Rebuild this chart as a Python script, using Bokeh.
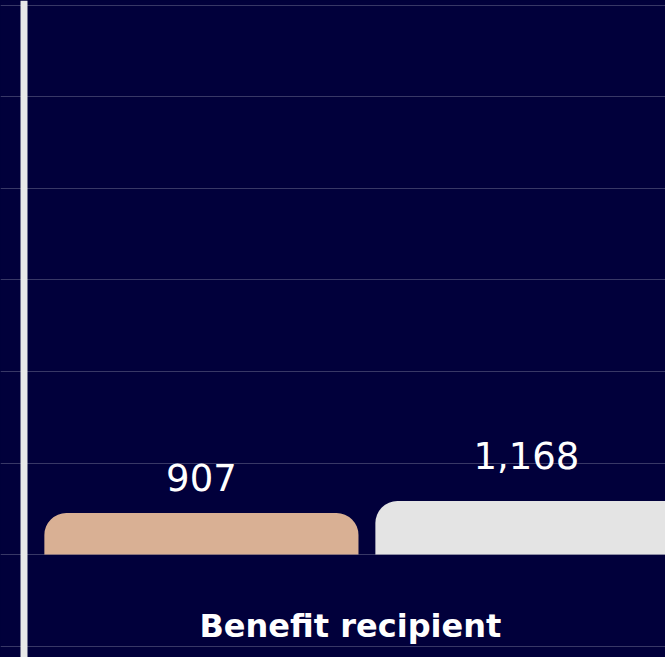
from bokeh.plotting import figure
from bokeh.models import Range1d, Span, SingleIntervalTicker, ColumnDataSource, Label
from bokeh.core.properties import value
from bokeh.embed import file_html
from bokeh.resources import INLINE

# Data
series = ["Series 1", "Series 2"]
values = [907, 1168]
labels = ["907", "1,168"]
group_label = "Benefit recipient"
bar_colors = ["#D9B094", "#E4E4E4"]

BG = "#01003B"
BAR_W = 0.949

p = figure(width=665, height=657, output_backend="svg", toolbar_location=None,
           x_range=Range1d(-0.607, 1.402), y_range=Range1d(-2251, 12109),
           min_border=0, min_border_left=0, min_border_right=0,
           min_border_top=0, min_border_bottom=0)
p.background_fill_color = BG
p.border_fill_color = BG
p.outline_line_color = None
p.xaxis.visible = False
p.yaxis.visible = False
p.xgrid.visible = False
p.ygrid.ticker = SingleIntervalTicker(interval=2000)
p.ygrid.grid_line_color = "white"
p.ygrid.grid_line_alpha = 0.22
p.ygrid.grid_line_width = 1

xs = list(range(len(values)))
left = [x - BAR_W / 2 for x in xs]
right = [x + BAR_W / 2 for x in xs]
# labels sit on their ink bottom: a comma descender lifts the digits
yoff = [-46 if "," in s else -36 for s in labels]
xoff = [-6 if "," in s else 0 for s in labels]
src = ColumnDataSource(dict(x=xs, top=values, left=left, right=right,
                            color=bar_colors, label=labels, yoff=yoff, xoff=xoff))

p.quad(left="left", right="right", top="top", bottom=0, source=src,
       fill_color="color", line_color=None, border_radius=(22, 22, 0, 0))

p.text(x="x", y="top", text="label", source=src, text_align="center",
       text_baseline="alphabetic", y_offset="yoff", x_offset="xoff", text_color="white",
       text_font=value("DejaVu Sans"), text_font_size="37px", text_font_style="normal")

p.add_layout(Span(location=-0.536, dimension="height", line_color="#E8E8E8", line_width=7))

p.add_layout(Label(x=0.45, y=-1552, text=group_label, text_align="center",
                   text_baseline="alphabetic", text_color="white",
                   text_font="DejaVu Sans", text_font_size="32px", text_font_style="bold"))

html = file_html(p, INLINE)
html = html.replace("<head>", "<head><style>html,body{margin:0;padding:0;background:#01003B;overflow:hidden}</style>", 1)
open("out.html", "w").write(html)
